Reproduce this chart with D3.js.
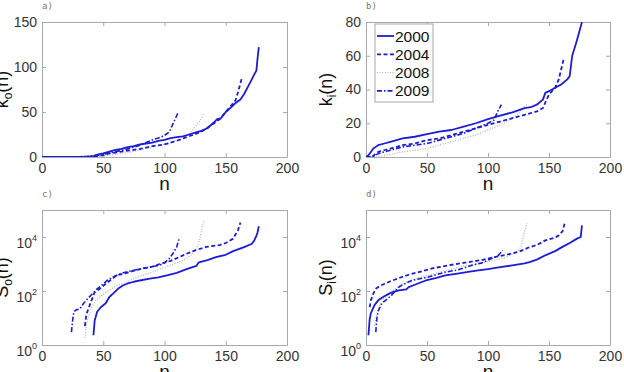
<!DOCTYPE html>
<html><head><meta charset="utf-8">
<script src="https://cdn.jsdelivr.net/npm/d3@7"></script>
<style>body{margin:0;background:#fff}svg{display:block}</style>
</head><body>
<svg id="c" width="624" height="372"></svg>
<script>
const years = ["2000","2004","2008","2009"];
// panel a: k_o(n)
const ko2000 = [[0,0],[38,0],[42,1],[46,3],[50,4],[55,6],[60,8],[65,9],[70,11],[75,12],[80,14],[85,15],[90,16],[95,18],[100,19],[105,21],[110,22],[115,23],[120,25],[125,27],[130,29],[135,32],[140,38],[143,42],[146,43],[150,50],[155,56],[158,60],[162,64],[165,70],[170,83],[173,91],[175,96],[176,110],[177,122]];
const ko2004 = [[0,0],[35,0],[45,1],[50,2],[55,4],[60,5],[70,7],[80,9],[90,12],[100,14],[110,18],[120,23],[130,28],[140,37],[145,42],[150,50],[155,58],[158,63],[160,72],[162,82],[163,87]];
const ko2008 = [[0,0],[45,0],[50,1],[60,3],[70,5],[80,8],[90,11],[100,14],[110,18],[115,20],[120,26],[125,33],[130,42],[132,48]];
const ko2009 = [[0,0],[25,0],[40,1],[50,3],[60,6],[70,9],[80,13],[85,16],[90,19],[95,21],[100,24],[104,28],[107,37],[111,49]];
// panel b: k_i(n)
const ki2000 = [[0,0],[2,1],[4,3],[6,5],[8,6],[10,7],[15,8],[20,9],[25,10],[30,11],[40,12],[50,13.5],[60,15],[70,16],[80,18],[90,20],[100,22.5],[110,24.5],[120,26.5],[130,29],[135,29.5],[140,31],[145,34],[147,38],[150,39],[155,41],[160,43],[165,46],[167,48],[169,60],[172,67],[174,72],[177,80]];
const ki2004 = [[0,0],[5,0],[8,2],[10,3],[15,4],[20,5],[30,7],[40,8],[50,10],[60,11],[70,13],[80,15],[90,17],[100,19],[110,21],[120,23],[130,25],[140,27],[145,29],[148,34],[150,37],[155,41],[158,46],[160,52],[162,58]];
const ki2008 = [[0,0],[10,0],[15,1],[20,1.5],[30,3],[40,4],[50,5],[60,7],[70,9],[80,11],[90,13],[100,16],[110,19],[120,23],[125,26],[130,30],[132,31]];
const ki2009 = [[0,0],[5,0],[10,2],[15,3],[20,4],[30,6],[40,7],[50,8],[60,10],[70,12],[80,14],[90,17],[100,20],[105,22],[108,27],[111,31]];
// panel c: S_o(n)
const so2000 = [[42,2.3],[43,8],[45,17],[48,25],[52,35],[55,60],[58,80],[62,120],[66,160],[70,190],[75,220],[80,245],[88,285],[95,320],[102,380],[110,470],[118,650],[126,850],[128,1150],[135,1400],[142,1800],[150,2200],[156,3000],[165,4200],[171,5500],[173,7000],[175,11000],[176,15000],[177,25000]];
const so2004 = [[35,5],[36,12],[37,17],[40,40],[43,90],[48,130],[53,200],[58,300],[61,380],[68,450],[74,550],[80,650],[90,800],[96,1000],[105,1300],[118,2400],[125,3200],[134,4300],[140,4700],[145,5000],[150,6000],[156,8700],[160,18000],[162,34000]];
const so2008 = [[35,1.8],[37,8],[40,22],[44,45],[50,75],[55,110],[61,160],[68,200],[74,280],[82,380],[90,500],[96,650],[105,900],[112,1200],[118,1600],[122,2200],[126,3700],[128,6000],[130,15000],[132,38000]];
const so2009 = [[24,3],[25,8],[26,17],[28,20],[31,22],[34,35],[36,45],[40,70],[45,120],[50,180],[53,245],[58,330],[64,440],[70,520],[80,660],[90,800],[96,900],[100,1100],[104,1600],[107,2500],[110,4300],[112,9000]];
// panel d: S_i(n)
const si2000 = [[2,2.3],[3,9],[4,15],[5,19],[7,30],[10,45],[14,60],[19,80],[23,95],[27,105],[30,110],[33,115],[35,140],[40,170],[49,245],[57,300],[65,380],[75,440],[85,520],[92,580],[100,650],[110,760],[120,890],[130,1050],[134,1170],[140,1450],[147,2100],[155,3000],[161,4300],[167,6000],[173,8700],[176,10000],[177,27000]];
const si2004 = [[3,25],[4,45],[6,80],[8,120],[12,160],[16,190],[20,230],[27,300],[35,400],[44,510],[55,700],[68,900],[80,1100],[95,1400],[105,1800],[115,2200],[125,2800],[134,4200],[140,5000],[147,7500],[155,9500],[158,11500],[161,16000],[163,34000]];
const si2008 = [[7,5],[8,10],[10,22],[12,35],[15,55],[19,80],[25,130],[30,190],[41,290],[51,380],[60,500],[68,600],[79,850],[90,1000],[106,1400],[115,1800],[123,2700],[127,4200],[129,11000],[132,32000]];
const si2009 = [[8,3],[9,10],[10,18],[13,35],[16,45],[21,70],[27,140],[30,170],[38,250],[50,320],[65,500],[75,600],[87,900],[95,1100],[103,1600],[108,2000],[110,2500],[112,3200]];

const xTicks = [0,50,100,150,200];
const koTicks = [0,50,100,150];
const kiTicks = [0,20,40,60,80];
const logTicks = [1,100,10000];

const blue = "#1c1cd2";
const styles = [
  {stroke: blue, dash: null, w: 1.8},
  {stroke: blue, dash: "4,2.5", w: 1.8},
  {stroke: "#b4b4b4", dash: "1,1.6", w: 1.3},
  {stroke: blue, dash: "5,2,1.5,2", w: 1.6}
];

const svg = d3.select("#c");
const frame = "#a8a8b0";
const tickCol = "#333";
const FONT = "Liberation Sans, Arial, sans-serif";

const panels = [
  {id:"a)", x0:42, x1:287, y0:22, y1:157, log:false, dom:[0,150], ticks:koTicks, series:[ko2000,ko2004,ko2008,ko2009], lab:"k", sub:"o", lx:3},
  {id:"b)", x0:366, x1:610, y0:22, y1:157, log:false, dom:[0,80], ticks:kiTicks, series:[ki2000,ki2004,ki2008,ki2009], lab:"k", sub:"i", lx:327, legend:true},
  {id:"c)", x0:42, x1:287, y0:210, y1:345, log:true, dom:[1,1e5], ticks:logTicks, series:[so2000,so2004,so2008,so2009], lab:"S", sub:"o", lx:3},
  {id:"d)", x0:366, x1:610, y0:210, y1:345, log:true, dom:[1,1e5], ticks:logTicks, series:[si2000,si2004,si2008,si2009], lab:"S", sub:"i", lx:327}
];

panels.forEach(p => {
  const x = d3.scaleLinear().domain([0,200]).range([p.x0,p.x1]);
  const y = (p.log ? d3.scaleLog() : d3.scaleLinear()).domain(p.dom).range([p.y1,p.y0]);
  const g = svg.append("g");
  const clipId = "clip" + p.id[0];
  svg.append("clipPath").attr("id", clipId).append("rect")
    .attr("x", p.x0).attr("y", p.y0).attr("width", p.x1-p.x0).attr("height", p.y1-p.y0);

  const ax = (axis, tr) => {
    const a = g.append("g").attr("transform", tr).call(axis);
    a.select(".domain").attr("stroke", frame);
    a.selectAll(".tick line").attr("stroke", frame);
    return a;
  };
  const bottom = ax(d3.axisBottom(x).tickValues(xTicks).tickSizeInner(-4).tickSizeOuter(0).tickPadding(4), `translate(0,${p.y1})`);
  bottom.selectAll("text").attr("font-family",FONT).attr("font-size",14).attr("fill",tickCol).attr("dy","0.85em");
  ax(d3.axisTop(x).tickValues(xTicks).tickSizeInner(-4).tickSizeOuter(0).tickFormat(""), `translate(0,${p.y0})`);
  ax(d3.axisRight(y).tickValues(p.ticks).tickSizeInner(-4).tickSizeOuter(0).tickFormat(""), `translate(${p.x1},0)`);
  const left = ax(d3.axisLeft(y).tickValues(p.ticks).tickSizeInner(-4).tickSizeOuter(0).tickPadding(5)
      .tickFormat(p.log ? "" : d3.format("d")), `translate(${p.x0},0)`);
  left.selectAll("text").attr("font-family",FONT).attr("font-size",14).attr("fill",tickCol);
  if (p.log) {
    left.selectAll(".tick").each(function(d){
      const t = d3.select(this).select("text").attr("text-anchor","end").attr("x",-5).attr("y",10).attr("dy",null).text("");
      t.append("tspan").text("10");
      t.append("tspan").attr("font-size",9).attr("dy",-7).text(Math.round(Math.log10(d)));
    });
  }

  svg.append("text").attr("x", p.x0).attr("y", p.y0-13).attr("font-family","DejaVu Sans Mono, monospace")
    .attr("font-size",9).attr("fill","#777").text(p.id);

  svg.append("text").attr("x",(p.x0+p.x1)/2).attr("y",p.y1+33).attr("text-anchor","middle")
    .attr("font-family",FONT).attr("font-size",19).attr("fill","#111").text("n");
  const yl = svg.append("text").attr("transform",`translate(${p.lx+5},${(p.y0+p.y1)/2}) rotate(-90)`)
    .attr("text-anchor","middle").attr("font-family",FONT).attr("font-size",18).attr("fill","#111");
  yl.append("tspan").text(p.lab);
  yl.append("tspan").attr("font-size",12).attr("dy",4).text(p.sub);
  yl.append("tspan").attr("dy",-4).text("(n)");

  const line = d3.line().x(d=>x(d[0])).y(d=>y(d[1]));
  const lg = svg.append("g").attr("clip-path",`url(#${clipId})`);
  [2,3,1,0].forEach(i => {
    const s = styles[i];
    lg.append("path").datum(p.series[i]).attr("d",line).attr("fill","none")
      .attr("stroke",s.stroke).attr("stroke-width",s.w).attr("stroke-dasharray",s.dash)
      .attr("stroke-linejoin","round");
  });

  if (p.legend) {
    const L = svg.append("g");
    L.append("rect").attr("x",375).attr("y",24).attr("width",58).attr("height",78)
      .attr("fill","#fff").attr("stroke",frame).attr("stroke-width",1);
    years.forEach((yr,i) => {
      const cy = 36 + i*18.3;
      const s = styles[i];
      L.append("line").attr("x1",377).attr("x2",394).attr("y1",cy).attr("y2",cy)
        .attr("stroke",s.stroke).attr("stroke-width",s.w).attr("stroke-dasharray",s.dash);
      L.append("text").attr("x",395).attr("y",cy).attr("dy","0.36em")
        .attr("font-family",FONT).attr("font-size",15.5).attr("fill","#111").text(yr);
    });
  }
});
</script>
</body></html>
